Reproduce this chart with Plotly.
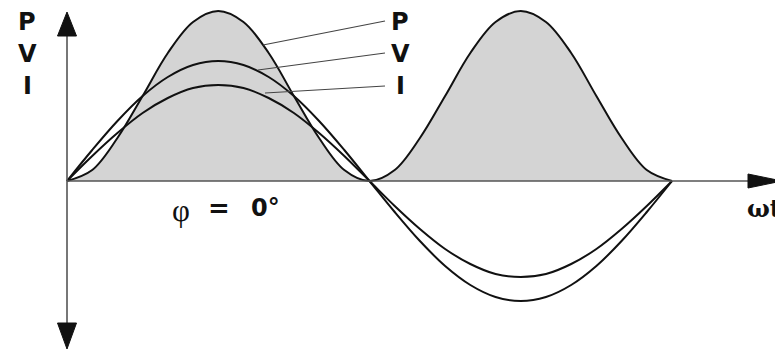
import plotly.graph_objects as go

# Phase angle (degrees) and curve values
angle_deg = [0, 15, 30, 45, 60, 75, 90, 105, 120, 135, 150, 165, 180,
             195, 210, 225, 240, 255, 270, 285, 300, 315, 330, 345, 360]
voltage = [0, 31, 60, 85, 104, 116, 120, 116, 104, 85, 60, 31, 0,
           -31, -60, -85, -104, -116, -120, -116, -104, -85, -60, -31, 0]
current = [0, 25, 48, 68, 83, 93, 96, 93, 83, 68, 48, 25, 0,
           -25, -48, -68, -83, -93, -96, -93, -83, -68, -48, -25, 0]
power = [0, 11, 43, 85, 128, 159, 170, 159, 128, 85, 43, 11, 0,
         11, 43, 85, 128, 159, 170, 159, 128, 85, 43, 11, 0]

labels = ["P", "V", "I"]
phase_symbol = "φ"
phase_eq = "="
phase_value = "0°"
axis_text = "ωt"

# the page body has an 8px margin; the figure is shrunk and shifted to match
OFF = 8
W, H = 783 - OFF, 352 - OFF


def px(x):
    return (x - OFF) / W


def py(y):
    return 1 - (y - OFF) / H


fig = go.Figure()
fig.add_trace(go.Scatter(x=angle_deg, y=power, mode="lines",
                         line=dict(color="#111111", width=2, shape="spline"),
                         fill="tozeroy", fillcolor="#d4d4d4",
                         hoverinfo="skip", showlegend=False))
fig.add_trace(go.Scatter(x=angle_deg, y=voltage, mode="lines",
                         line=dict(color="#111111", width=2, shape="spline"),
                         hoverinfo="skip", showlegend=False))
fig.add_trace(go.Scatter(x=angle_deg, y=current, mode="lines",
                         line=dict(color="#111111", width=2, shape="spline"),
                         hoverinfo="skip", showlegend=False))

shapes = []
axis_col = "#555555"
# y axis line
shapes.append(dict(type="line", xref="paper", yref="paper",
                   x0=px(67), x1=px(67), y0=py(30), y1=py(328),
                   line=dict(color=axis_col, width=1.6)))
# x axis line
shapes.append(dict(type="line", xref="paper", yref="paper",
                   x0=px(67), x1=px(752), y0=py(181), y1=py(181),
                   line=dict(color=axis_col, width=1.6)))


def tri(pts):
    d = "M " + " L ".join(f"{px(a)},{py(b)}" for a, b in pts) + " Z"
    return dict(type="path", xref="paper", yref="paper", path=d,
                fillcolor="#111111", line=dict(color="#111111", width=1))


shapes.append(tri([(67, 12), (57.5, 36), (76.5, 36)]))
shapes.append(tri([(67, 349), (57.5, 323), (76.5, 323)]))
shapes.append(tri([(782, 181), (748, 174), (748, 188)]))

# leader lines
leaders = [((263, 45), (385, 21)), ((258, 70), (385, 53)), ((265, 93), (385, 86))]
for (a, b), (c, d) in leaders:
    shapes.append(dict(type="line", xref="paper", yref="paper",
                       x0=px(a), y0=py(b), x1=px(c), y1=py(d),
                       line=dict(color="#444444", width=1.2)))

annotations = []
lab_font = dict(family="DejaVu Sans", size=24, color="#111111")
for lab, yc in zip(labels, [22.5, 54, 86.5]):
    annotations.append(dict(xref="paper", yref="paper", x=px(27), y=py(yc),
                            text=f"<b>{lab}</b>", showarrow=False, borderpad=0,
                            xanchor="center", yanchor="middle", font=lab_font))
    annotations.append(dict(xref="paper", yref="paper", x=px(400), y=py(yc),
                            text=f"<b>{lab}</b>", showarrow=False, borderpad=0,
                            xanchor="center", yanchor="middle", font=lab_font))

annotations.append(dict(xref="paper", yref="paper", x=px(181), y=py(210),
                        text=phase_symbol, showarrow=False, borderpad=0,
                        xanchor="center", yanchor="middle",
                        font=dict(family="Liberation Serif", size=31, color="#111111")))
annotations.append(dict(xref="paper", yref="paper", x=px(219), y=py(208),
                        text=f"<b>{phase_eq}</b>", showarrow=False, borderpad=0,
                        xanchor="center", yanchor="middle",
                        font=dict(family="DejaVu Sans", size=26, color="#111111")))
annotations.append(dict(xref="paper", yref="paper", x=px(265), y=py(208),
                        text=f"<b>{phase_value}</b>", showarrow=False, borderpad=0,
                        xanchor="center", yanchor="middle",
                        font=dict(family="DejaVu Sans", size=24, color="#111111")))
annotations.append(dict(xref="paper", yref="paper", x=px(782), y=py(208),
                        text=f"<b>{axis_text}</b>", showarrow=False, borderpad=0,
                        xanchor="right", yanchor="middle",
                        font=dict(family="DejaVu Serif", size=24, color="#111111")))

deg_per_px = 360 / 605
fig.update_layout(
    width=W, height=H, autosize=False,
    margin=dict(l=0, r=0, t=0, b=0),
    paper_bgcolor="white", plot_bgcolor="white",
    xaxis=dict(visible=False, range=[(OFF - 67) * deg_per_px, (783 - 67) * deg_per_px]),
    yaxis=dict(visible=False, range=[-(352 - 181), 181 - OFF]),
    shapes=shapes, annotations=annotations,
)
fig.write_html("out.html")
